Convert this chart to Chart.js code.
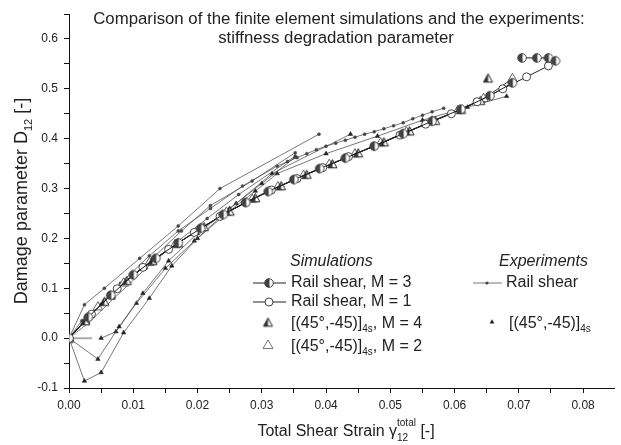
<!DOCTYPE html>
<html><head><meta charset="utf-8">
<script src="https://cdn.jsdelivr.net/npm/chart.js@4/dist/chart.umd.min.js"></script>
<style>html,body{margin:0;padding:0;background:#fff;}canvas{display:block;}</style>
</head><body>
<canvas id="c" width="621" height="445"></canvas>
<script>
// ---------- data ----------
const titleLines = ["Comparison of the finite element simulations and the experiments:", "stiffness degradation parameter"];
const xRange = [0, 0.0849];
const yRange = [-0.1, 0.65];
const xTicks = [0, 0.005, 0.01, 0.015, 0.02, 0.025, 0.03, 0.035, 0.04, 0.045, 0.05, 0.055, 0.06, 0.065, 0.07, 0.075, 0.08];

// Simulations
const simM3X = [0, 0.003, 0.0065, 0.010, 0.0135, 0.017, 0.0205, 0.024, 0.0275, 0.031, 0.035, 0.039, 0.043, 0.0475, 0.052, 0.0565, 0.061, 0.0655, 0.069, 0.0698, 0.0705, 0.0728, 0.0746, 0.0757];
const simM3Y = [0, 0.042, 0.086, 0.127, 0.160, 0.191, 0.220, 0.248, 0.272, 0.294, 0.318, 0.340, 0.361, 0.385, 0.410, 0.435, 0.459, 0.486, 0.512, null, 0.562, 0.562, 0.562, 0.556];
const simM1X = [0, 0.0035, 0.0075, 0.0115, 0.0155, 0.0195, 0.0235, 0.0275, 0.0315, 0.0355, 0.0395, 0.0435, 0.0475, 0.0515, 0.0555, 0.0595, 0.0635, 0.0675, 0.0712, 0.0746];
const simM1Y = [0, 0.048, 0.099, 0.142, 0.178, 0.212, 0.244, 0.272, 0.297, 0.320, 0.342, 0.364, 0.385, 0.407, 0.429, 0.450, 0.474, 0.500, 0.524, 0.546];
const simM4X = [0, 0.0025, 0.0055, 0.009, 0.013, 0.017, 0.021, 0.025, 0.029, 0.033, 0.037, 0.041, 0.045, 0.049, 0.053, 0.057, 0.061, 0.064, 0.0646, 0.0652];
const simM4Y = [0, 0.035, 0.074, 0.116, 0.156, 0.191, 0.224, 0.255, 0.282, 0.306, 0.329, 0.350, 0.372, 0.394, 0.416, 0.437, 0.459, 0.477, null, 0.522];
const simM2X = [0, 0.0045, 0.0085, 0.0125, 0.0165, 0.0205, 0.0245, 0.0285, 0.0325, 0.0365, 0.0405, 0.0445, 0.0485, 0.0525, 0.0565, 0.0605, 0.0645, 0.0690];
const simM2Y = [0, 0.062, 0.110, 0.151, 0.187, 0.220, 0.252, 0.278, 0.303, 0.326, 0.348, 0.369, 0.391, 0.413, 0.435, 0.456, 0.480, 0.520];

// Experiments: rail shear specimens
const expRS1X = [0, 0.0024, 0.0055, 0.011, 0.017, 0.0235, 0.0389];
const expRS1Y = [0, 0.067, 0.100, 0.160, 0.225, 0.300, 0.409];
const expRS2X = [0, 0.002, 0.005, 0.009, 0.013, 0.0175, 0.022, 0.0285, 0.0352];
const expRS2Y = [0, 0.035, 0.068, 0.115, 0.160, 0.215, 0.266, 0.315, 0.372];
const expRS3X = [0, 0.0035, 0.008, 0.0125, 0.017, 0.022, 0.027, 0.0324, 0.034, 0.0355, 0.037, 0.0385, 0.040, 0.0415, 0.043, 0.0445, 0.046, 0.0475, 0.049, 0.0505, 0.052, 0.0535, 0.055, 0.0565, 0.0583];
const expRS3Y = [0, 0.050, 0.110, 0.165, 0.215, 0.260, 0.305, 0.345, 0.354, 0.362, 0.370, 0.378, 0.385, 0.391, 0.397, 0.403, 0.409, 0.414, 0.420, 0.426, 0.432, 0.440, 0.447, 0.454, 0.461];
const expRS4X = [0, 0.003, 0.007, 0.012, 0.017, 0.0215, 0.0264, 0.0352];
const expRS4Y = [0, 0.030, 0.080, 0.140, 0.195, 0.240, 0.288, 0.365];
// Experiments: [(45°,-45)]4s specimens
const expT1X = [0, 0.0024, 0.005, 0.0085, 0.0125, 0.016, 0.020, 0.025, 0.030, 0.0352];
const expT1Y = [0, -0.086, -0.069, 0.011, 0.080, 0.145, 0.200, 0.260, 0.310, 0.363];
const expT2X = [0, 0.0045, 0.0078, 0.0115, 0.0155, 0.020, 0.026, 0.0316, 0.0438];
const expT2Y = [0, -0.042, 0.023, 0.090, 0.155, 0.210, 0.270, 0.330, 0.409];
const expT3X = [0.005, 0.0073, 0.0105, 0.015, 0.0195, 0.025, 0.029, 0.0324, 0.040, 0.048, 0.055, 0.062, 0.0681];
const expT3Y = [0, 0.013, 0.070, 0.140, 0.195, 0.255, 0.295, 0.330, 0.370, 0.405, 0.437, 0.463, 0.485];
const greyX = [0, 0.0036];
const greyY = [0, 0];

// ---------- helpers ----------
const FONT = '"Liberation Sans", Arial, Helvetica, sans-serif';
const INK = '#222';
function pts(xs, ys){ return xs.map((x,i)=>({x:x, y:ys[i]})); }

function halfCircle(r){
  const c=document.createElement('canvas'); const s=Math.ceil(2*r+3); c.width=s; c.height=s;
  const g=c.getContext('2d'); const cx=s/2, cy=s/2;
  g.fillStyle='#fff'; g.beginPath(); g.arc(cx,cy,r,0,2*Math.PI); g.fill();
  g.fillStyle='#444'; g.beginPath(); g.moveTo(cx,cy); g.arc(cx,cy,r,Math.PI/2,3*Math.PI/2); g.closePath(); g.fill();
  g.strokeStyle='#333'; g.lineWidth=0.9; g.beginPath(); g.arc(cx,cy,r,0,2*Math.PI); g.stroke();
  g.beginPath(); g.moveTo(cx,cy-r); g.lineTo(cx,cy+r); g.stroke();
  return c;
}
function halfTri(r){
  const c=document.createElement('canvas'); const s=Math.ceil(2*r+3); c.width=s; c.height=s;
  const g=c.getContext('2d'); const cx=s/2, cy=s/2+1;
  const top=[cx,cy-r], bl=[cx-r*0.9,cy+r*0.65], br=[cx+r*0.9,cy+r*0.65];
  g.fillStyle='#fff'; g.beginPath(); g.moveTo(...top); g.lineTo(...bl); g.lineTo(...br); g.closePath(); g.fill();
  g.fillStyle='#333'; g.beginPath(); g.moveTo(...top); g.lineTo(...bl); g.lineTo(cx,cy+r*0.65); g.closePath(); g.fill();
  g.strokeStyle='#222'; g.lineWidth=1; g.beginPath(); g.moveTo(...top); g.lineTo(...bl); g.lineTo(...br); g.closePath(); g.stroke();
  return c;
}
const hcStyle = halfCircle(4.3);
const htStyle = halfTri(5);

function expRS(xs, ys){
  return {data: pts(xs,ys), showLine:true, borderColor:'#555', borderWidth:0.8, pointStyle:'circle', pointRadius:1.5,
    pointBackgroundColor:'#444', pointBorderColor:'#444', pointBorderWidth:0.5, order:10, spanGaps:false};
}
function expT(xs, ys){
  return {data: pts(xs,ys), showLine:true, borderColor:'#555', borderWidth:0.8, pointStyle:'triangle', pointRadius:2.6,
    pointBackgroundColor:'#222', pointBorderColor:'#222', pointBorderWidth:0.5, order:10, spanGaps:false};
}

const datasets = [
  {data: pts(greyX, greyY), showLine:true, borderColor:'#aaa', borderWidth:2, pointRadius:0, order:20},
  expRS(expRS1X, expRS1Y), expRS(expRS2X, expRS2Y), expRS(expRS3X, expRS3Y), expRS(expRS4X, expRS4Y),
  expT(expT1X, expT1Y), expT(expT2X, expT2Y), expT(expT3X, expT3Y),
  {data: pts(simM2X, simM2Y), showLine:true, borderColor:'#333', borderWidth:1, pointStyle:'triangle', pointRadius:5.5,
    pointBackgroundColor:'#fff', pointBorderColor:'#555', pointBorderWidth:0.9, order:4, spanGaps:false},
  {data: pts(simM4X, simM4Y), showLine:true, borderColor:'#222', borderWidth:1, pointStyle:htStyle, order:3, spanGaps:false},
  {data: pts(simM1X, simM1Y), showLine:true, borderColor:'#222', borderWidth:1, pointStyle:'circle', pointRadius:4,
    pointBackgroundColor:'#fff', pointBorderColor:'#333', pointBorderWidth:0.9, order:2, spanGaps:false},
  {data: pts(simM3X, simM3Y), showLine:true, borderColor:'#222', borderWidth:1, pointStyle:hcStyle, order:1, spanGaps:false}
];

// ---------- text / legend plugin ----------
function subText(ctx, parts, x, y, align){
  let total=0; const widths=[];
  parts.forEach(p=>{
    ctx.font=p[2];
    if(p[1]==='sp') widths.push(Math.max(ctx.measureText(p[0][0]).width, ctx.measureText(p[0][1]).width));
    else widths.push(ctx.measureText(p[0]).width);
    total+=widths[widths.length-1];
  });
  let cx = align==='center' ? x-total/2 : x;
  ctx.textAlign='left'; ctx.textBaseline='alphabetic';
  parts.forEach((p,i)=>{
    ctx.font=p[2];
    if(p[1]==='n') ctx.fillText(p[0], cx, y);
    else if(p[1]==='s') ctx.fillText(p[0], cx, y+p[3]);
    else { ctx.fillText(p[0][0], cx, y+p[3]); ctx.fillText(p[0][1], cx, y-p[4]); }
    cx+=widths[i];
  });
}

const decor = {
  id:'decor',
  afterDraw(chart){
    const ctx=chart.ctx;
    ctx.save();
    ctx.fillStyle=INK;
    ctx.font='16.8px '+FONT; ctx.textAlign='center'; ctx.textBaseline='middle';
    ctx.fillText(titleLines[0], 339, 19);
    ctx.fillText(titleLines[1], 336, 38);
    const big='16px '+FONT, small='10px '+FONT;
    subText(ctx, [["Total Shear Strain \u03B3",'n',big],[["12","total"],'sp',small,5,10],[" [-]",'n',big]], 346, 436, 'center');
    ctx.save(); ctx.translate(27, 201); ctx.rotate(-Math.PI/2);
    subText(ctx, [["Damage parameter D",'n','18px '+FONT],["12",'s','11px '+FONT,5],[" [-]",'n','18px '+FONT]], 0, 0, 'center');
    ctx.restore();

    ctx.fillStyle=INK;
    ctx.font='italic 16px '+FONT; ctx.textAlign='left'; ctx.textBaseline='middle';
    ctx.fillText('Simulations', 290, 262);
    ctx.fillText('Experiments', 499, 262);
    ctx.font='16px '+FONT;
    const rows=[283,302,322,345];
    ctx.strokeStyle='#222'; ctx.lineWidth=1;
    [rows[0],rows[1]].forEach(r=>{ctx.beginPath(); ctx.moveTo(253,r); ctx.lineTo(286,r); ctx.stroke();});
    ctx.drawImage(hcStyle, 269-hcStyle.width/2, rows[0]-hcStyle.height/2);
    ctx.fillStyle='#fff'; ctx.strokeStyle='#333'; ctx.lineWidth=0.9;
    ctx.beginPath(); ctx.arc(269, rows[1], 4, 0, 2*Math.PI); ctx.fill(); ctx.stroke();
    ctx.drawImage(htStyle, 268-htStyle.width/2, rows[2]-htStyle.height/2);
    ctx.strokeStyle='#666'; ctx.lineWidth=0.9; ctx.beginPath();
    ctx.moveTo(268, rows[3]-5); ctx.lineTo(263, rows[3]+3.5); ctx.lineTo(273, rows[3]+3.5); ctx.closePath(); ctx.stroke();
    ctx.fillStyle=INK;
    ctx.textBaseline='middle';
    ctx.fillText('Rail shear, M = 3', 291, rows[0]);
    ctx.fillText('Rail shear, M = 1', 291, rows[1]);
    const f16='16px '+FONT, f10='10px '+FONT;
    subText(ctx, [["[(45\u00B0,-45)]",'n',f16],["4s",'s',f10,4],[", M = 4",'n',f16]], 291, rows[2]+6, 'left');
    subText(ctx, [["[(45\u00B0,-45)]",'n',f16],["4s",'s',f10,4],[", M = 2",'n',f16]], 291, rows[3]+6, 'left');
    ctx.strokeStyle='#555'; ctx.lineWidth=0.8;
    ctx.beginPath(); ctx.moveTo(473, rows[0]); ctx.lineTo(502, rows[0]); ctx.stroke();
    ctx.fillStyle='#444'; ctx.beginPath(); ctx.arc(487, rows[0], 1.6, 0, 2*Math.PI); ctx.fill();
    ctx.fillStyle='#222'; ctx.beginPath();
    ctx.moveTo(492, rows[2]-2.8); ctx.lineTo(489.6, rows[2]+1.6); ctx.lineTo(494.4, rows[2]+1.6); ctx.closePath(); ctx.fill();
    ctx.fillStyle=INK; ctx.font=f16; ctx.textBaseline='middle';
    ctx.fillText('Rail shear', 506, rows[0]);
    subText(ctx, [["[(45\u00B0,-45)]",'n',f16],["4s",'s',f10,4]], 509, rows[2]+6, 'left');
    ctx.restore();
  }
};

new Chart(document.getElementById('c'), {
  type:'scatter',
  data:{datasets:datasets},
  options:{
    responsive:false, animation:false, devicePixelRatio:1,
    layout:{padding:{top:14, right:0, left:0, bottom:0}},
    plugins:{legend:{display:false}, tooltip:{enabled:false}, title:{display:false}},
    elements:{line:{tension:0}},
    scales:{
      x:{type:'linear', min:xRange[0], max:xRange[1],
        border:{display:true, color:'#111', width:1},
        grid:{display:true, drawOnChartArea:false, drawTicks:true, tickLength:5, color:'#111', lineWidth:1},
        afterBuildTicks:(axis)=>{ axis.ticks = xTicks.map(v=>({value:v})); },
        ticks:{autoSkip:false, maxRotation:0, padding:5, color:INK, font:{family:FONT, size:12},
          callback:(v)=>{const k=Math.round(v*200); return k%2? '' : (k/200).toFixed(2);}},
        afterFit:(s)=>{s.height=57;}
      },
      y:{type:'linear', min:yRange[0], max:yRange[1],
        border:{display:true, color:'#111', width:1},
        grid:{display:true, drawOnChartArea:false, drawTicks:true, tickLength:5, color:'#111', lineWidth:1},
        ticks:{stepSize:0.05, autoSkip:false, padding:6, color:INK, font:{family:FONT, size:12},
          callback:(v)=>{const k=Math.round(v*20); return k%2? '' : (k/20).toFixed(1);}},
        afterFit:(s)=>{s.width=69;}
      }
    }
  },
  plugins:[decor]
});
</script>
</body></html>
